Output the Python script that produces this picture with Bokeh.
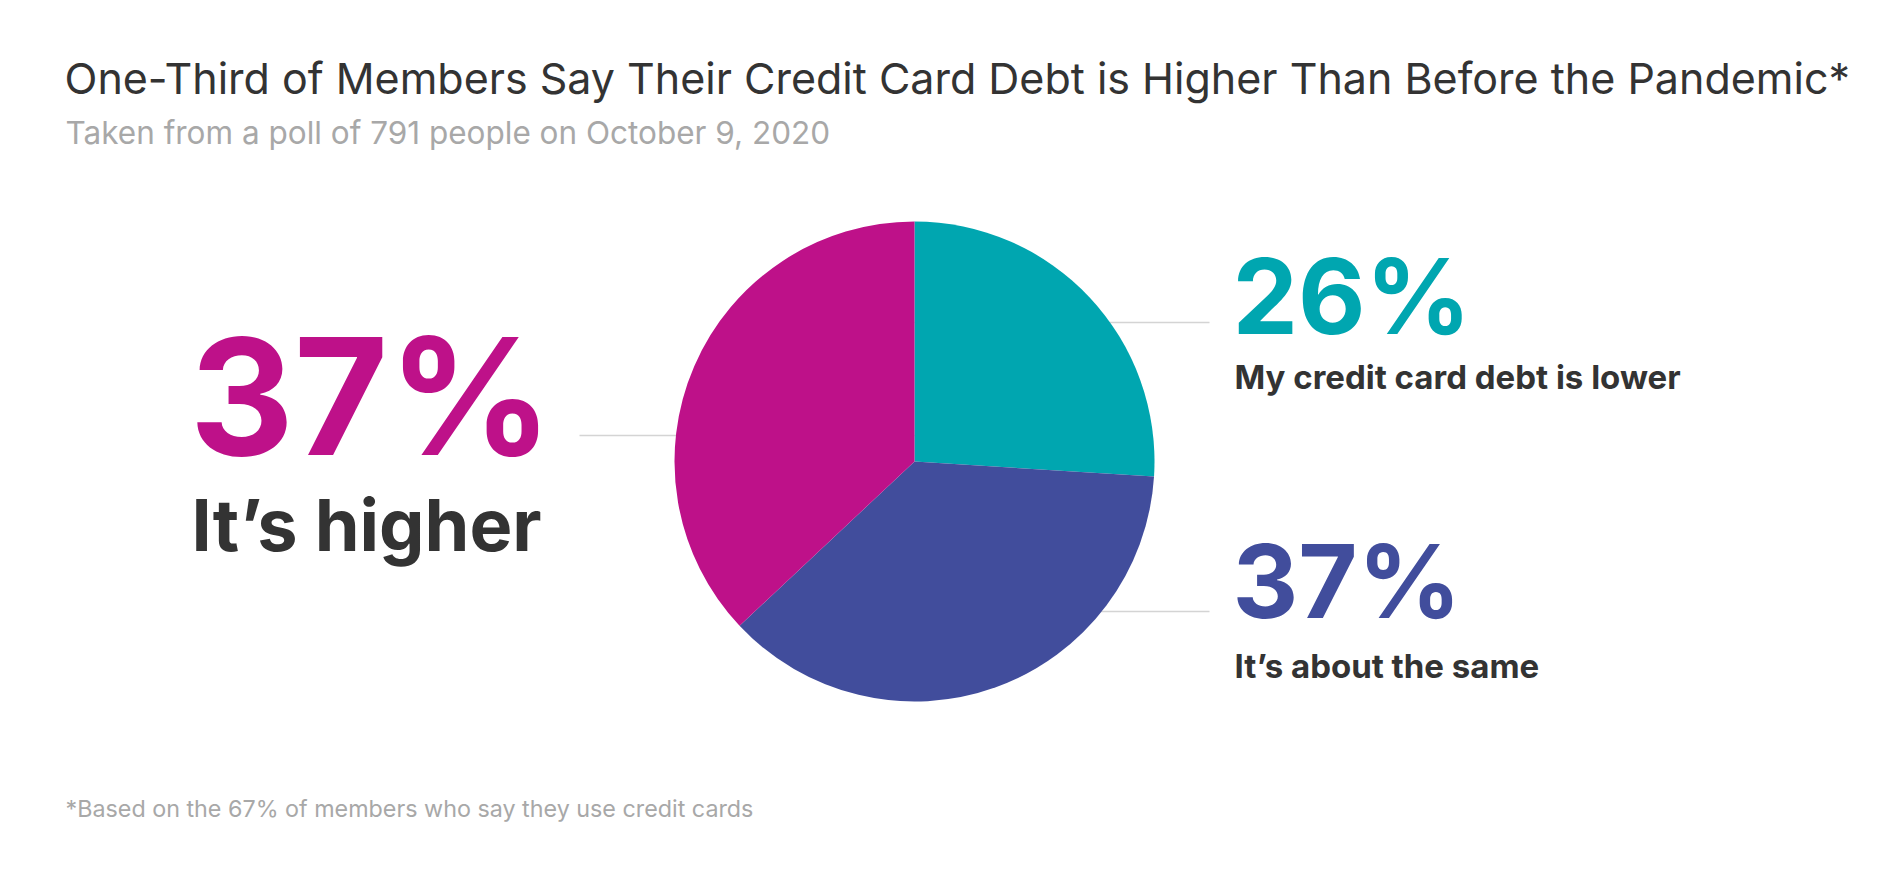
import math
from bokeh.plotting import figure
from bokeh.models import Range1d
from bokeh.core.properties import value
from bokeh.embed import file_html
from bokeh.resources import INLINE

# ---- data ----
categories = ["My credit card debt is lower", "It\u2019s about the same", "It\u2019s higher"]
percents = [26, 37, 37]
colors = ["#00A6B0", "#414D9C", "#BE1189"]
title = "One-Third of Members Say Their Credit Card Debt is Higher Than Before the Pandemic*"
subtitle = "Taken from a poll of 791 people on October 9, 2020"
footnote = "*Based on the 67% of members who say they use credit cards"

# ---- layout (screen pixel coordinates) ----
W, H = 1881, 854
OFF = 1
FONT = "Inter"
K = 0.33  # baseline compensation (fraction of font size)

p = figure(width=W, height=H, output_backend="svg", toolbar_location=None,
           x_range=Range1d(OFF, OFF + W), y_range=Range1d(OFF + H, OFF),
           min_border=0, outline_line_color=None)
p.axis.visible = False
p.grid.visible = False
p.background_fill_color = "white"
p.border_fill_color = "white"

cx, cy, r = 915, 462, 240

# label placement per category
lab_x = [1233, 1233, 190]
num_base = [331, 615, 450]
lab_base = [388, 677, 549]
num_size = [104, 102, 162]
lab_size = [33, 33, 72]
line_y = [323, 612, 436]
line_end = [1210, 1210, 580]


def txt(x, base, s, size, color, bold=False):
    p.text(x=[x], y=[base - K * size], text=[s], text_color=color,
           text_font=value(FONT), text_font_style="bold" if bold else "normal",
           text_font_size=f"{size}px", text_baseline="alphabetic", text_align="left")


# leader lines (drawn under the pie)
for i in range(3):
    p.line([cx, line_end[i]], [line_y[i], line_y[i]], line_color="#D4D4D4", line_width=1.5)

# pie: starting at top, going clockwise on screen
total = sum(percents)
start = math.pi / 2
for i, v in enumerate(percents):
    end = start - v / total * 2 * math.pi
    p.wedge(x=cx, y=cy, radius=r, start_angle=start, end_angle=end,
            direction="clock", fill_color=colors[i], line_color=None)
    start = end

# labels
for i, v in enumerate(percents):
    txt(lab_x[i], num_base[i], f"{v}%", num_size[i], colors[i], bold=True)
    txt(lab_x[i] + 2, lab_base[i], categories[i], lab_size[i], "#333333", bold=True)

# titles
txt(65, 93, title, 43, "#333333")
txt(66, 143, subtitle, 31.5, "#A8A8A8")
txt(66, 817, footnote, 23.3, "#A8A8A8")

open("out.html", "w").write(file_html(p, INLINE))
